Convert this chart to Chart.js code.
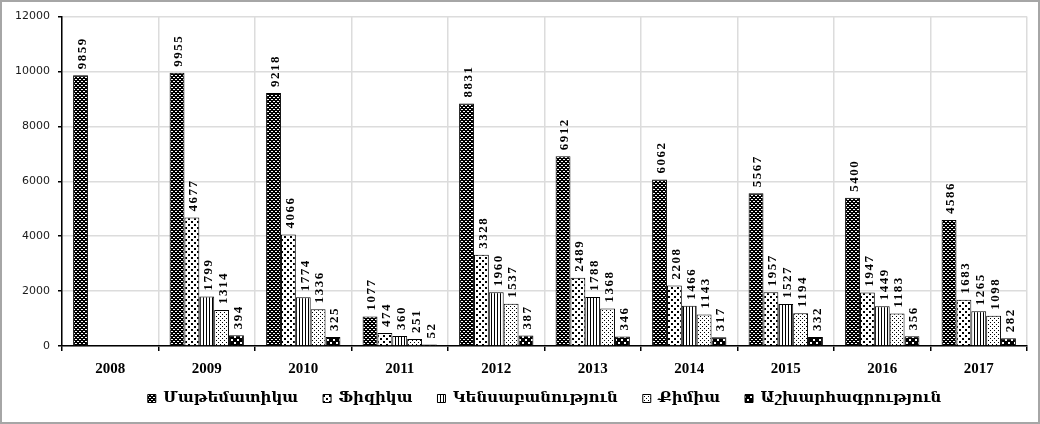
<!DOCTYPE html>
<html>
<head>
<meta charset="utf-8">
<script src="https://cdn.jsdelivr.net/npm/chart.js@4/dist/chart.umd.min.js"></script>
<style>
  body { margin: 0; background: #fff; }
  #wrap { width: 1036px; height: 420px; border: 2px solid #a6a6a6; }
</style>
</head>
<body>
<div id="wrap"><canvas id="chart" width="1036" height="420"></canvas></div>
<script>
const years = ['2008', '2009', '2010', '2011', '2012', '2013', '2014', '2015', '2016', '2017'];
const seriesNames = ['Մաթեմատիկա', 'Ֆիզիկա', 'Կենսաբանություն', 'Քիմիա', 'Աշխարհագրություն'];
const math = [9859, 9955, 9218, 1077, 8831, 6912, 6062, 5567, 5400, 4586];
const physics = [null, 4677, 4066, 474, 3328, 2489, 2208, 1957, 1947, 1683];
const biology = [null, 1799, 1774, 360, 1960, 1788, 1466, 1527, 1449, 1265];
const chemistry = [null, 1314, 1336, 251, 1537, 1368, 1143, 1194, 1183, 1098];
const geography = [null, 394, 325, 52, 387, 346, 317, 332, 356, 282];
const yTicks = [0, 2000, 4000, 6000, 8000, 10000, 12000];

// small tiles turned into fill patterns
function makePattern(size, bg, fg, rects) {
  const c = document.createElement('canvas');
  c.width = size; c.height = size;
  const g = c.getContext('2d');
  g.fillStyle = bg;
  g.fillRect(0, 0, size, size);
  g.fillStyle = fg;
  rects.forEach(r => g.fillRect(r[0], r[1], r[2], r[3]));
  return g.createPattern(c, 'repeat');
}

const ctx = document.getElementById('chart').getContext('2d');
const fills = [
  makePattern(4, '#000', '#fff', [[1, 1, 2, 1], [3, 3, 1, 1], [0, 3, 1, 1]]),
  makePattern(6, '#fff', '#000', [[0, 0, 2, 2], [3, 3, 2, 2]]),
  makePattern(3, '#fff', '#000', [[0, 0, 1, 3]]),
  makePattern(4, '#fff', '#000', [[0, 0, 1, 1], [2, 2, 1, 1]]),
  makePattern(6, '#000', '#fff', [[1, 1, 2, 2], [4, 4, 2, 2]])
];
const allData = [math, physics, biology, chemistry, geography];

const valueLabels = {
  id: 'valueLabels',
  afterDatasetsDraw(chart) {
    const c = chart.ctx;
    c.save();
    c.font = "bold 13px 'Liberation Serif'";
    c.letterSpacing = '1.5px';
    c.fillStyle = '#000';
    c.textAlign = 'left';
    c.textBaseline = 'middle';
    chart.data.datasets.forEach((ds, i) => {
      chart.getDatasetMeta(i).data.forEach((bar, j) => {
        const v = ds.data[j];
        if (v === null) return;
        c.save();
        c.translate(bar.x + 2, bar.y - 6);
        c.rotate(-Math.PI / 2);
        c.fillText(String(v), 0, 0);
        c.restore();
      });
    });
    c.restore();
  }
};

// legend in the original sits a bit right of centre and a little higher
const legendShift = {
  id: 'legendShift',
  afterLayout(chart) {
    chart.legend.left += 30;
    chart.legend.right += 30;
    chart.legend.top -= 10;
    chart.legend.bottom -= 10;
  }
};

new Chart(ctx, {
  type: 'bar',
  data: {
    labels: years,
    datasets: allData.map((d, i) => ({
      label: seriesNames[i],
      data: d,
      backgroundColor: fills[i],
      borderColor: '#000',
      borderWidth: 1,
      barPercentage: 1,
      categoryPercentage: 0.77
    }))
  },
  options: {
    responsive: false,
    animation: false,
    devicePixelRatio: 1,
    layout: { padding: { top: 12, right: 11, left: 0, bottom: -4 } },
    plugins: {
      legend: {
        position: 'bottom',
        labels: {
          boxWidth: 8,
          boxHeight: 8,
          padding: 25,
          color: '#000',
          font: { family: "'Liberation Serif', 'DejaVu Serif'", size: 15, weight: 'bold' }
        }
      },
      tooltip: { enabled: false }
    },
    scales: {
      x: {
        grid: { color: '#dcdcdc', lineWidth: 1.5, tickColor: '#000', tickLength: 5 },
        border: { color: '#000', width: 1.5 },
        ticks: {
          color: '#000',
          padding: 9,
          font: { family: "'Liberation Serif'", size: 15, weight: 'bold' }
        },
        afterFit(scale) { scale.height = 30; }
      },
      y: {
        min: 0,
        max: 12000,
        afterBuildTicks(scale) { scale.ticks = yTicks.map(v => ({ value: v })); },
        grid: { color: '#dcdcdc', lineWidth: 1.5, tickColor: '#000', tickLength: 4 },
        border: { color: '#000', width: 1.5 },
        ticks: {
          color: '#1a1a1a',
          padding: 8,
          font: { family: "'DejaVu Sans'", size: 11 },
          callback: v => String(v)
        },
        afterFit(scale) { scale.width = 60; }
      }
    }
  },
  plugins: [valueLabels, legendShift]
});
</script>
</body>
</html>
